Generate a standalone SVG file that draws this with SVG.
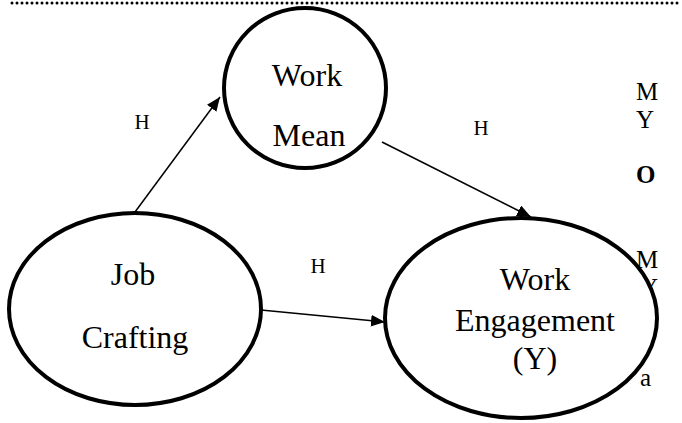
<svg xmlns="http://www.w3.org/2000/svg" width="682" height="423" viewBox="0 0 682 423">
<style>
.node{fill:#fff;stroke:#000;stroke-width:4}
.lbl{font-family:"Liberation Serif","Times New Roman",serif;font-size:32px;fill:#000;text-anchor:middle}
.h{font-family:"Liberation Serif","Times New Roman",serif;font-size:21px;fill:#000;text-anchor:middle}
.bg{font-family:"Liberation Serif","Times New Roman",serif;font-size:25px;fill:#000}
.edge{stroke:#000;stroke-width:1.5;fill:none}
</style>
<defs>
<marker id="arr" viewBox="0 0 12 10" refX="12" refY="5" markerWidth="14" markerHeight="12" markerUnits="userSpaceOnUse" orient="auto">
<path d="M0,0 L12,5 L0,10 z" fill="#000"/>
</marker>
</defs>
<rect width="682" height="423" fill="#fff"/>
<line x1="12" y1="3" x2="682" y2="3" stroke="#000" stroke-width="3" stroke-linecap="round" stroke-dasharray="0 5"/>
<g id="bgtext">
<text class="bg" x="636" y="100">M</text>
<text class="bg" x="636" y="128">Y</text>
<text class="bg" x="636" y="183" font-weight="bold">O</text>
<text class="bg" x="636" y="268">M</text>
<text class="bg" x="640" y="296">Y</text>
<text class="bg" x="640" y="386">a</text>
</g>
<g id="connectors">
<line class="edge" x1="135" y1="212" x2="220" y2="97" marker-end="url(#arr)"/>
<line class="edge" x1="382" y1="142" x2="531" y2="217" marker-end="url(#arr)"/>
<line class="edge" x1="261" y1="310" x2="385" y2="322" marker-end="url(#arr)"/>
<text class="h" x="142" y="129">H</text>
<text class="h" x="481" y="135">H</text>
<text class="h" x="318" y="273">H</text>
</g>
<g id="work-mean">
<ellipse class="node" cx="305" cy="88" rx="81" ry="80"/>
<text class="lbl" x="307" y="86">Work</text>
<text class="lbl" x="309" y="146">Mean</text>
</g>
<g id="job-crafting">
<ellipse class="node" cx="135" cy="309" rx="126" ry="96"/>
<text class="lbl" x="133" y="285">Job</text>
<text class="lbl" x="135" y="348">Crafting</text>
</g>
<g id="work-engagement">
<ellipse class="node" cx="521" cy="318" rx="136" ry="100"/>
<text class="lbl" x="535" y="290">Work</text>
<text class="lbl" x="535" y="331">Engagement</text>
<text class="lbl" x="535" y="369">(Y)</text>
</g>
</svg>
